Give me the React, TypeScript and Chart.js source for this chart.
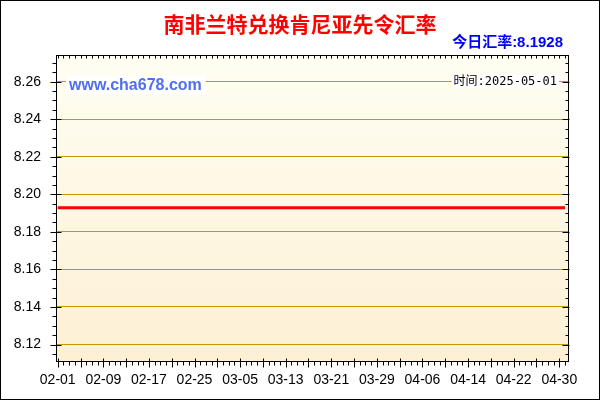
import { useEffect, useRef } from 'react';
import { Chart, registerables } from 'chart.js';

Chart.register(...registerables);

const titleText = '南非兰特兑换肯尼亚先令汇率';
const todayText = '今日汇率:8.1928';
const siteText = 'www.cha678.com';
const timeText = '时间:2025-05-01';

// daily rate, 2025-02-01 .. 2025-05-01 (flat in the picture)
const rates = [
  8.1928, 8.1928, 8.1928, 8.1928, 8.1928, 8.1928, 8.1928, 8.1928, 8.1928, 8.1928,
  8.1928, 8.1928, 8.1928, 8.1928, 8.1928, 8.1928, 8.1928, 8.1928, 8.1928, 8.1928,
  8.1928, 8.1928, 8.1928, 8.1928, 8.1928, 8.1928, 8.1928, 8.1928, 8.1928, 8.1928,
  8.1928, 8.1928, 8.1928, 8.1928, 8.1928, 8.1928, 8.1928, 8.1928, 8.1928, 8.1928,
  8.1928, 8.1928, 8.1928, 8.1928, 8.1928, 8.1928, 8.1928, 8.1928, 8.1928, 8.1928,
  8.1928, 8.1928, 8.1928, 8.1928, 8.1928, 8.1928, 8.1928, 8.1928, 8.1928, 8.1928,
  8.1928, 8.1928, 8.1928, 8.1928, 8.1928, 8.1928, 8.1928, 8.1928, 8.1928, 8.1928,
  8.1928, 8.1928, 8.1928, 8.1928, 8.1928, 8.1928, 8.1928, 8.1928, 8.1928, 8.1928,
  8.1928, 8.1928, 8.1928, 8.1928, 8.1928, 8.1928, 8.1928, 8.1928, 8.1928, 8.1928,
];

// day index of each labelled x tick
const xTickDays = [0, 8, 16, 24, 32, 40, 48, 56, 64, 72, 80, 88];
const xTickLabels = ['02-01', '02-09', '02-17', '02-25', '03-05', '03-13', '03-21', '03-29', '04-06', '04-14', '04-22', '04-30'];
const yTicks = [8.12, 8.14, 8.16, 8.18, 8.2, 8.22, 8.24, 8.26];

const tickFont = { family: '"Liberation Sans", Arial, sans-serif', size: 14 };

const framePlugin = {
  id: 'frame',
  beforeDraw(chart: any) {
    const { ctx, chartArea: a } = chart;
    const g = ctx.createLinearGradient(0, a.top, 0, a.bottom);
    g.addColorStop(0, '#FFFEF3');
    g.addColorStop(1, '#FDF0D4');
    ctx.save();
    ctx.fillStyle = g;
    ctx.fillRect(a.left, a.top, a.right - a.left, a.bottom - a.top);
    ctx.restore();
  },
  afterDraw(chart: any) {
    const { ctx, chartArea: a, scales } = chart;
    const xs = scales.x;
    const ys = scales.y;
    const L = Math.round(a.left) + 0.5;
    const R = Math.round(a.right) + 0.5;
    const T = Math.round(a.top) + 0.5;
    const B = Math.round(a.bottom) - 0.5;

    ctx.save();
    ctx.strokeStyle = '#000';
    ctx.lineWidth = 1;
    ctx.beginPath();
    // day ticks on bottom and top
    for (let d = 0; d < rates.length; d++) {
      const px = Math.round(xs.getPixelForValue(d)) + 0.5;
      const major = d % 4 === 0;
      ctx.moveTo(px, major ? B - 3 : B);
      ctx.lineTo(px, major ? B + 6 : B + 4);
      ctx.moveTo(px, T);
      ctx.lineTo(px, T + 3);
    }
    // 0.005 ticks on left and right
    for (let k = Math.ceil(ys.min * 200); k <= ys.max * 200; k++) {
      const py = Math.round(ys.getPixelForValue(k / 200)) + 0.5;
      const major = k % 4 === 0;
      ctx.moveTo(major ? L - 6 : L - 4, py);
      ctx.lineTo(major ? L + 5 : L, py);
      ctx.moveTo(major ? R - 6 : R - 3, py);
      ctx.lineTo(major ? R + 1 : R, py);
    }
    ctx.stroke();
    ctx.strokeRect(L, T, R - L, B - T);
    ctx.strokeRect(0.5, 0.5, chart.width - 1, chart.height - 1);

    // title
    ctx.textBaseline = 'middle';
    ctx.textAlign = 'center';
    ctx.fillStyle = '#FF0000';
    ctx.font = 'bold 21px "Noto Sans CJK SC", sans-serif';
    ctx.fillText(titleText, 300, 24);

    ctx.textAlign = 'right';
    ctx.fillStyle = '#0000FF';
    ctx.font = 'bold 15px "Liberation Sans", "Noto Sans CJK SC", sans-serif';
    ctx.fillText(todayText, 563, 43);

    // watermark
    ctx.textAlign = 'left';
    ctx.font = 'bold 16px "Liberation Sans", Arial, sans-serif';
    let w = ctx.measureText(siteText).width;
    ctx.fillStyle = '#FFFFFF';
    ctx.fillRect(66, 76, w + 7, 18);
    ctx.fillStyle = '#4F6FF0';
    ctx.fillText(siteText, 69, 85.5);

    // time stamp
    ctx.font = '12px "DejaVu Sans Mono", "Noto Sans CJK SC", monospace';
    w = ctx.measureText(timeText).width;
    ctx.fillStyle = '#FFFFFF';
    ctx.fillRect(557 - w - 2, 75, w + 4, 13);
    ctx.fillStyle = '#000000';
    ctx.fillText(timeText, 557 - w, 81.5);
    ctx.restore();
  },
};

export default function App() {
  const canvasRef = useRef<HTMLCanvasElement>(null);

  useEffect(() => {
    document.body.style.margin = '0';
    if (!canvasRef.current) return;

    const chart = new Chart(canvasRef.current, {
      type: 'line',
      data: {
        datasets: [{
          label: 'rate',
          data: rates.map((v, i) => ({ x: i, y: v })),
          borderColor: '#FF0000',
          borderWidth: 3,
          pointRadius: 0,
          tension: 0,
          fill: false,
        }],
      },
      options: {
        responsive: false,
        animation: false,
        layout: { autoPadding: false, padding: { top: 55, right: 32, left: 0, bottom: 0 } },
        plugins: {
          legend: { display: false },
          tooltip: { enabled: false },
        },
        scales: {
          x: {
            type: 'linear',
            min: -0.3,
            max: 89.53,
            afterBuildTicks: (s: any) => { s.ticks = xTickDays.map(v => ({ value: v })); },
            afterFit: (s: any) => { s.height = 38; },
            grid: { display: false, drawTicks: false },
            border: { display: false },
            ticks: {
              autoSkip: false,
              maxRotation: 0,
              padding: 10,
              color: '#000',
              font: tickFont,
              callback: (_v: any, i: number) => xTickLabels[i],
            },
          },
          y: {
            type: 'linear',
            min: 8.1107,
            max: 8.2742,
            afterBuildTicks: (s: any) => { s.ticks = yTicks.map(v => ({ value: v })); },
            afterFit: (s: any) => { s.width = 56; },
            grid: { color: 'rgb(200,150,0)', drawTicks: false },
            border: { display: false },
            ticks: {
              padding: 15,
              color: '#000',
              font: tickFont,
              callback: (v: any) => Number(v).toFixed(2),
            },
          },
        },
      },
      plugins: [framePlugin],
    });

    return () => chart.destroy();
  }, []);

  return (
    <div style={{ width: 600, height: 400 }}>
      <canvas ref={canvasRef} width={600} height={400} />
    </div>
  );
}
